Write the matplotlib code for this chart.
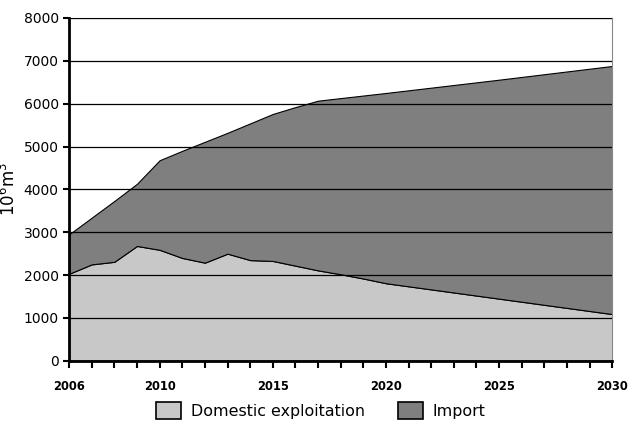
import matplotlib.pyplot as plt

years = [2006, 2007, 2008, 2009, 2010, 2011, 2012, 2013, 2014, 2015, 2016, 2017, 2018, 2019, 2020, 2025, 2030]
domestic = [2030, 2250, 2310, 2680, 2590, 2400, 2290, 2500, 2350, 2330, 2220, 2110, 2020, 1920, 1810, 1450, 1090]
total = [2950, 3340, 3730, 4130, 4680, 4900, 5110, 5320, 5540, 5760, 5920, 6070, 6130, 6190, 6250, 6560, 6880]
imports = [t - d for t, d in zip(total, domestic)]

labels = ["Domestic exploitation", "Import"]
colors = ["#c8c8c8", "#7f7f7f"]

fig = plt.figure(figsize=(6.28, 4.28), dpi=100)
ax = fig.add_axes([0.110, 0.157, 0.865, 0.801])

ax.stackplot(years, domestic, imports, labels=labels, colors=colors,
             edgecolor="black", linewidth=0.8)

ax.set_xlim(2006, 2030)
ax.set_ylim(0, 8000)
ax.set_yticks(range(0, 8001, 1000))
ax.set_xticks([2006, 2010, 2015, 2020, 2025, 2030])
ax.set_xticks(range(2006, 2031), minor=True)
ax.tick_params(axis="x", which="both", direction="out", length=5, width=1.5, pad=9)
ax.tick_params(axis="y", direction="out", length=4, width=1.5, labelsize=10)
for lab in ax.get_xticklabels():
    lab.set_fontweight("bold")
    lab.set_fontsize(8.3)

ax.set_axisbelow(False)
ax.yaxis.grid(True, color="black", linewidth=0.9)

ax.spines["left"].set_linewidth(2)
ax.spines["bottom"].set_linewidth(2)
ax.spines["top"].set_color("#888888")
ax.spines["right"].set_color("#888888")

ax.set_ylabel("10$^6$m$^3$", fontsize=12, labelpad=3)

ax.legend(loc="center", bbox_to_anchor=(0.463, -0.145), ncol=2, frameon=False,
          fontsize=11.4, handlelength=1.6, handleheight=1.2, columnspacing=2.1,
          handletextpad=0.6)
for p in ax.get_legend().get_patches():
    p.set_edgecolor("black")
    p.set_linewidth(1.2)

fig.savefig("out.png", dpi=100)
